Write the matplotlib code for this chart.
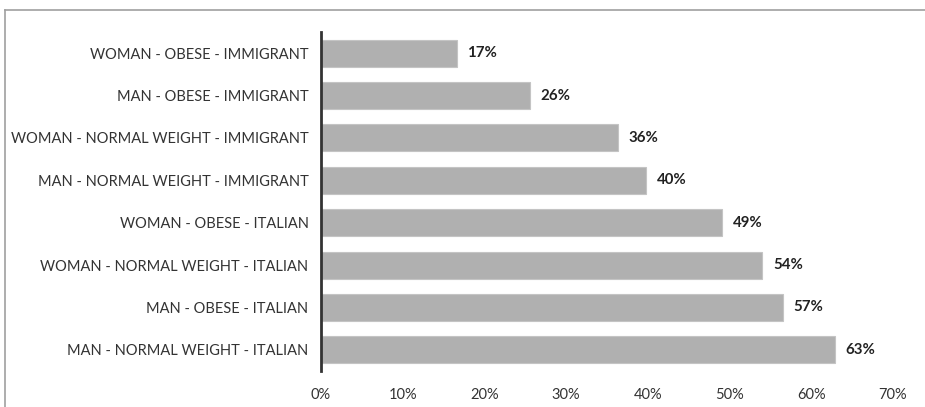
import matplotlib
matplotlib.use("Agg")
import matplotlib.pyplot as plt
from matplotlib.lines import Line2D

# data (top to bottom as in the chart)
groups = ["WOMAN - OBESE - IMMIGRANT",
          "MAN - OBESE - IMMIGRANT",
          "WOMAN - NORMAL WEIGHT - IMMIGRANT",
          "MAN - NORMAL WEIGHT - IMMIGRANT",
          "WOMAN - OBESE - ITALIAN",
          "WOMAN - NORMAL WEIGHT - ITALIAN",
          "MAN - OBESE - ITALIAN",
          "MAN - NORMAL WEIGHT - ITALIAN"]
shares = [16.6, 25.6, 36.3, 39.8, 49.1, 54.0, 56.5, 62.9]
value_labels = ["17%", "26%", "36%", "40%", "49%", "54%", "57%", "63%"]
xticks = [0, 10, 20, 30, 40, 50, 60, 70]

plt.rcParams['font.family'] = ['Lato', 'DejaVu Sans']

fig = plt.figure(figsize=(9.25, 4.07), dpi=100)
ax = fig.add_axes([321/925, 1-371/407, (893-321)/925, (371-32)/407])

y = range(len(groups))
ax.barh(y, shares, height=0.64, color='#b0b0b0', edgecolor='#c4c4c4', linewidth=0.8)
for i, (v, lab) in enumerate(zip(shares, value_labels)):
    ax.text(v + 1.3, i, lab, va='center', ha='left', fontsize=10.8,
            fontweight='bold', color='#222222')

ax.set_xlim(0, 70)
ax.set_ylim(len(groups) - 0.5, -0.5)
ax.set_yticks(list(y))
ax.set_yticklabels(groups, fontsize=10.5, color='#333333')
ax.set_xticks(xticks)
ax.set_xticklabels([f"{t}%" for t in xticks], fontsize=10.5, color='#333333')
ax.tick_params(axis='y', length=0, pad=9)
ax.tick_params(axis='x', length=0, pad=12)

for s in ['top', 'right', 'bottom']:
    ax.spines[s].set_visible(False)
ax.spines['left'].set_color('#333333')
ax.spines['left'].set_linewidth(2)

# thin frame: only its top and left edges fall inside the image
x0 = 4.5/925
y0 = 1 - 10/407
fig.add_artist(Line2D([x0, 1], [y0, y0], transform=fig.transFigure,
                      color='#a0a0a0', linewidth=1.2))
fig.add_artist(Line2D([x0, x0], [0, y0], transform=fig.transFigure,
                      color='#a0a0a0', linewidth=1.2))

fig.savefig("out.png", dpi=100)
